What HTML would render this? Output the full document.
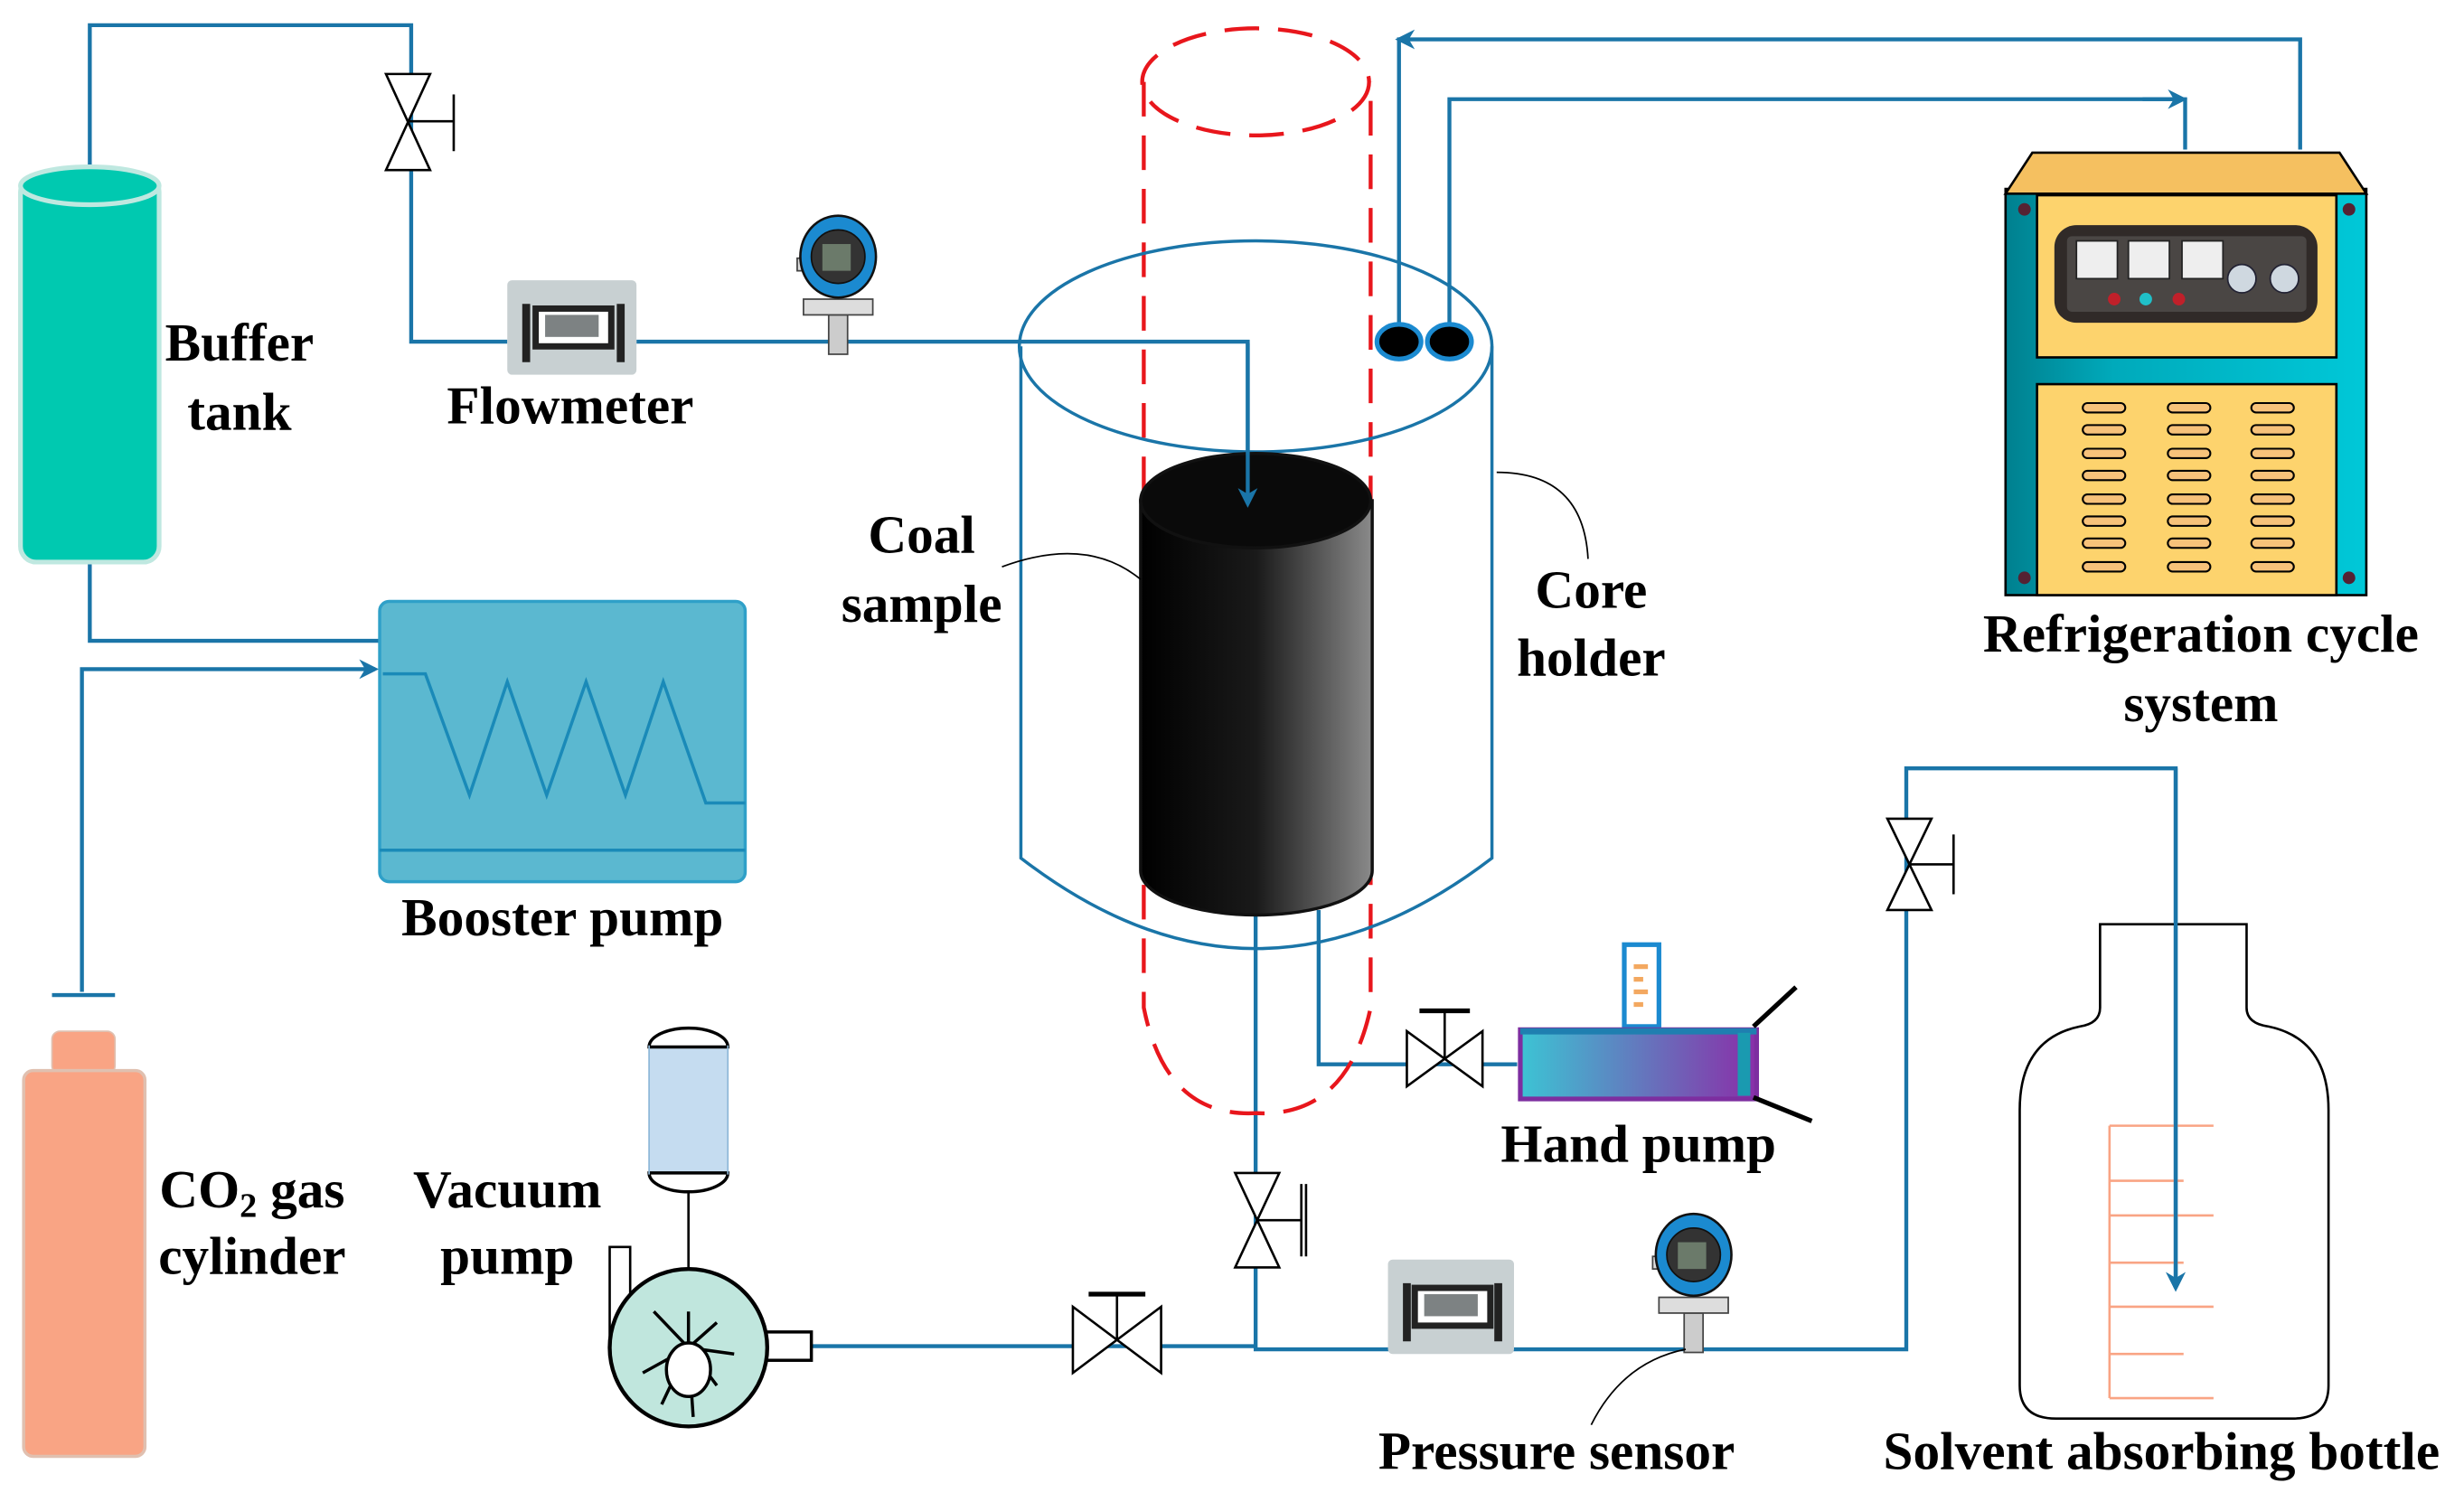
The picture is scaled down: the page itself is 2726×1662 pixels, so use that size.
<!DOCTYPE html>
<html><head><meta charset="utf-8"><style>html,body{margin:0;padding:0;background:#fff}svg{display:block}.t{font-family:"Liberation Serif","Times New Roman",serif;font-weight:bold;font-size:34px}</style></head>
<body>
<svg width="2726" height="1662" viewBox="0 0 1564 954" preserveAspectRatio="none" xmlns="http://www.w3.org/2000/svg">
<defs>
<linearGradient id="coal" x1="0" x2="1"><stop offset="0" stop-color="#000"/><stop offset="0.5" stop-color="#1a1a1a"/><stop offset="1" stop-color="#8a8a8a"/></linearGradient>
<linearGradient id="hp" x1="0" x2="1"><stop offset="0" stop-color="#3cc4d4"/><stop offset="1" stop-color="#8a2ea8"/></linearGradient>
<linearGradient id="teal" x1="0" x2="1"><stop offset="0" stop-color="#00808f"/><stop offset="0.3" stop-color="#00aabb"/><stop offset="1" stop-color="#00c8d8"/></linearGradient>
<marker id="ar" viewBox="0 0 10 10" refX="8" refY="5" markerWidth="5" markerHeight="5" orient="auto"><path d="M0,0 L10,5 L0,10 L3,5z" fill="#1a75a8"/></marker>
</defs>
<g class="t" fill="#000" text-anchor="middle">
<!-- pipes -->
<g stroke="#1a75a8" stroke-width="2.5" fill="none">
<path d="M57,105 V16 H261 V217 H322"/>
<path d="M404,217 H792 V318" marker-end="url(#ar)"/>
<path d="M57,355 V407 H241"/>
<path d="M52,630 V425 H238" marker-end="url(#ar)"/>
<path d="M515,855 H797"/>
<path d="M797,582 V857 H1210 V488 H1381 V818" marker-end="url(#ar)"/>
<path d="M837,578 V676 H963"/>
<path d="M888,205 V25 H1460 V95"/>
<path d="M888,25 H892" marker-end="url(#ar)" transform="rotate(180 890 25)"/>
<path d="M920,205 V63 H1387 V95"/>
<path d="M1360,63 H1386" marker-end="url(#ar)"/>
</g>
<!-- buffer tank -->
<rect x="13" y="112" width="88" height="245" rx="10" fill="#00c9b0" stroke="#bfe8e0" stroke-width="3"/>
<ellipse cx="57" cy="118" rx="44" ry="12" fill="#00c9b0" stroke="#bfe8e0" stroke-width="3"/>
<!-- valves -->
<g stroke="#000" stroke-width="1.5" fill="#fff">
<path d="M245,47 H273 L245,108 H273 Z"/><path d="M259,77 H288 M288,60 V96"/>
<path d="M1198,520 H1226 L1198,578 H1226 Z"/><path d="M1212,549 H1240 M1240,530 V568"/>
<path d="M784,745 H812 L784,805 H812 Z"/><path d="M798,775 H826 M826,752 V798 M829,752 V798"/>
<path d="M681,830 V872 L737,830 V872 Z"/><path d="M709,851 V822"/><path d="M691,822 H727" stroke-width="3"/>
<path d="M893,655 V690 L941,655 V690 Z"/><path d="M917,672 V642"/><path d="M901,642 H933" stroke-width="3"/>
</g>
<!-- flowmeters -->
<g>
<rect x="322" y="178" width="82" height="60" rx="3" fill="#c8d0d2"/>
<path d="M334,193 V230 M394,193 V230" stroke="#222" stroke-width="5"/>
<rect x="340" y="196" width="48" height="24" fill="#fff" stroke="#222" stroke-width="4"/><rect x="346" y="200" width="34" height="14" fill="#7d8283"/>
<rect x="881" y="800" width="80" height="60" rx="3" fill="#c8d0d2"/>
<path d="M893,815 V852 M951,815 V852" stroke="#222" stroke-width="5"/>
<rect x="898" y="818" width="48" height="24" fill="#fff" stroke="#222" stroke-width="4"/><rect x="904" y="822" width="34" height="14" fill="#7d8283"/>
</g>
<!-- pressure sensors -->
<g id="ps">
<rect x="526" y="200" width="12" height="25" fill="#ccc" stroke="#444"/>
<rect x="510" y="190" width="44" height="10" fill="#ddd" stroke="#444"/>
<rect x="506" y="164" width="6" height="8" fill="#ddd" stroke="#444"/>
<ellipse cx="532" cy="163" rx="24" ry="26" fill="#1b8ad0" stroke="#111" stroke-width="1.5"/>
<circle cx="532" cy="163" r="17" fill="#333" stroke="#111"/>
<rect x="522" y="155" width="18" height="17" fill="#6b7a6a"/>
</g>
<use href="#ps" transform="translate(543,634)"/>
<!-- booster pump -->
<rect x="241" y="382" width="232" height="178" rx="6" fill="#5bb8d0" stroke="#2fa0c8" stroke-width="2"/>
<path d="M241,540 H473" stroke="#1a8ab8" stroke-width="2"/>
<path d="M243,428 H270 L298,505 L322,433 L347,505 L372,433 L397,505 L421,433 L448,510 H473" stroke="#1a8ab8" stroke-width="2" fill="none"/>
<!-- CO2 cylinder -->
<path d="M33,632 H73" stroke="#1a75a8" stroke-width="2.5"/>
<rect x="33" y="655" width="40" height="27" rx="5" fill="#f9a484" stroke="#e0c0b0"/>
<rect x="15" y="680" width="77" height="245" rx="6" fill="#f9a484" stroke="#e0c0b0" stroke-width="2"/>
<!-- vacuum pump -->
<path d="M437,752 V805" stroke="#000" stroke-width="1.5"/>
<rect x="412" y="662" width="50" height="85" fill="#c5dcf0"/>
<path d="M412,665 A25,12 0 0 1 462,665 Z M412,745 A25,12 0 0 0 462,745 Z" fill="#fff" stroke="#000" stroke-width="2"/>
<path d="M412,664 V746 M462,664 V746" stroke="#8fb8d8"/>
<path d="M387,792 H400 V850 H387 Z" fill="#fff" stroke="#000" stroke-width="1.5"/>
<rect x="485" y="846" width="30" height="18" fill="#fff" stroke="#000" stroke-width="2"/>
<ellipse cx="437" cy="856" rx="50" ry="50" fill="#c0e6dd" stroke="#000" stroke-width="2.5"/>
<g stroke="#000" stroke-width="2"><path d="M437,856 L437,833 M437,856 L455,840 M437,856 L466,860 M437,856 L455,880 M437,856 L440,900 M437,856 L420,892 M437,856 L408,872 M437,856 L415,833"/></g>
<ellipse cx="437" cy="870" rx="14" ry="17" fill="#fff" stroke="#000" stroke-width="2"/>
<!-- red dashed -->
<g stroke="#e8161c" stroke-width="2.5" fill="none" stroke-dasharray="22,12">
<ellipse cx="797" cy="52" rx="72" ry="34"/>
<path d="M726,52 V640 Q740,710 797,707 Q855,710 870,640 V52"/>
</g>
<!-- core holder -->
<path d="M648,220 V545 Q797,660 947,545 V220" fill="none" stroke="#1a75a8" stroke-width="2"/>
<ellipse cx="797" cy="220" rx="150" ry="67" fill="none" stroke="#1a75a8" stroke-width="2"/>
<!-- coal -->
<path d="M724,318 V553 A73,28 0 0 0 871,553 V318 Z" fill="url(#coal)" stroke="#111" stroke-width="2"/>
<ellipse cx="797" cy="318" rx="73" ry="30" fill="#0a0a0a" stroke="#111" stroke-width="2"/>
<path d="M792,218 V320" stroke="#1a75a8" stroke-width="2.5" fill="none" marker-end="url(#ar)"/>
<!-- ports -->
<ellipse cx="888" cy="217" rx="14" ry="11" fill="#000" stroke="#1b8ad0" stroke-width="3"/>
<ellipse cx="920" cy="217" rx="14" ry="11" fill="#000" stroke="#1b8ad0" stroke-width="3"/>
<!-- hand pump -->
<rect x="1031" y="600" width="22" height="52" fill="#fff" stroke="#1b8ad0" stroke-width="3"/>
<path d="M1037,614 H1046 M1037,622 H1043 M1037,630 H1046 M1037,638 H1043" stroke="#f3a860" stroke-width="3"/>
<rect x="965" y="654" width="150" height="44" fill="url(#hp)" stroke="#7d2ea0" stroke-width="3"/>
<path d="M965,655 H1115" stroke="#1f7fb0" stroke-width="4"/>
<rect x="1103" y="656" width="8" height="40" fill="#1a9ab0"/>
<path d="M1113,652 L1140,627 M1113,697 L1150,712" stroke="#000" stroke-width="3"/>
<!-- refrigeration -->
<rect x="1273" y="120" width="229" height="258" fill="url(#teal)" stroke="#000" stroke-width="1.5"/>
<path d="M1273,123 L1290,97 H1485 L1502,123 Z" fill="#f5c060" stroke="#000" stroke-width="1.5"/>
<rect x="1293" y="124" width="190" height="103" fill="#fdd36d" stroke="#000" stroke-width="1.5"/>
<rect x="1293" y="244" width="190" height="134" fill="#fdd36d" stroke="#000" stroke-width="1.5"/>
<rect x="1304" y="143" width="167" height="62" rx="14" fill="#302a28"/>
<rect x="1312" y="150" width="152" height="48" rx="3" fill="#4a4644"/>
<g fill="#eee" stroke="#222"><rect x="1318" y="153" width="26" height="24"/><rect x="1351" y="153" width="26" height="24"/><rect x="1385" y="153" width="26" height="24"/></g>
<circle cx="1423" cy="177" r="9" fill="#cfd8e0" stroke="#223"/><circle cx="1450" cy="177" r="9" fill="#cfd8e0" stroke="#223"/>
<circle cx="1342" cy="190" r="4" fill="#c0202a"/><circle cx="1362" cy="190" r="4" fill="#20c0c8"/><circle cx="1383" cy="190" r="4" fill="#c0202a"/>
<g fill="#523"><circle cx="1285" cy="133" r="4"/><circle cx="1491" cy="133" r="4"/><circle cx="1285" cy="367" r="4"/><circle cx="1491" cy="367" r="4"/></g>
<g fill="#f7c27a" stroke="#000" stroke-width="1.2">
<rect x="1322" y="256" width="27" height="6" rx="3"/><rect x="1376" y="256" width="27" height="6" rx="3"/><rect x="1429" y="256" width="27" height="6" rx="3"/>
<rect x="1322" y="270" width="27" height="6" rx="3"/><rect x="1376" y="270" width="27" height="6" rx="3"/><rect x="1429" y="270" width="27" height="6" rx="3"/>
<rect x="1322" y="285" width="27" height="6" rx="3"/><rect x="1376" y="285" width="27" height="6" rx="3"/><rect x="1429" y="285" width="27" height="6" rx="3"/>
<rect x="1322" y="299" width="27" height="6" rx="3"/><rect x="1376" y="299" width="27" height="6" rx="3"/><rect x="1429" y="299" width="27" height="6" rx="3"/>
<rect x="1322" y="314" width="27" height="6" rx="3"/><rect x="1376" y="314" width="27" height="6" rx="3"/><rect x="1429" y="314" width="27" height="6" rx="3"/>
<rect x="1322" y="328" width="27" height="6" rx="3"/><rect x="1376" y="328" width="27" height="6" rx="3"/><rect x="1429" y="328" width="27" height="6" rx="3"/>
<rect x="1322" y="342" width="27" height="6" rx="3"/><rect x="1376" y="342" width="27" height="6" rx="3"/><rect x="1429" y="342" width="27" height="6" rx="3"/>
<rect x="1322" y="357" width="27" height="6" rx="3"/><rect x="1376" y="357" width="27" height="6" rx="3"/><rect x="1429" y="357" width="27" height="6" rx="3"/>
</g>
<!-- bottle -->
<path d="M1333,587 H1426 V640 Q1426,650 1440,652 Q1478,660 1478,705 V880 Q1478,901 1455,901 H1305 Q1282,901 1282,880 V705 Q1282,660 1320,652 Q1333,650 1333,640 Z" fill="none" stroke="#000" stroke-width="1.5"/>
<g stroke="#f9a484" stroke-width="1.5"><path d="M1339,715 V888 M1339,715 H1405 M1339,750 H1386 M1339,772 H1405 M1339,802 H1386 M1339,830 H1405 M1339,860 H1386 M1339,888 H1405"/></g>
<path d="M1381,488 V818" stroke="#1a75a8" stroke-width="2.5" marker-end="url(#ar)"/>
<!-- leaders -->
<g stroke="#000" stroke-width="1" fill="none">
<path d="M636,360 Q690,340 724,368"/>
<path d="M1008,355 Q1005,300 950,300"/>
<path d="M1010,905 Q1030,865 1070,857"/>
</g>
<!-- labels -->
<text x="152" y="229">Buffer</text><text x="152" y="273">tank</text>
<text x="362" y="269">Flowmeter</text>
<text x="357" y="594">Booster pump</text>
<text x="585" y="351">Coal</text><text x="585" y="395">sample</text>
<text x="1010" y="386">Core</text><text x="1010" y="429">holder</text>
<text x="1397" y="414">Refrigeration cycle</text><text x="1397" y="458">system</text>
<text x="1040" y="738">Hand pump</text>
<text x="160" y="767">CO<tspan font-size="22" dy="6">2</tspan><tspan dy="-6"> gas</tspan></text><text x="160" y="809">cylinder</text>
<text x="322" y="767">Vacuum</text><text x="322" y="809">pump</text>
<text x="988" y="933">Pressure sensor</text>
<text x="1372" y="933">Solvent absorbing bottle</text>
</g>
</svg>
</body></html>
